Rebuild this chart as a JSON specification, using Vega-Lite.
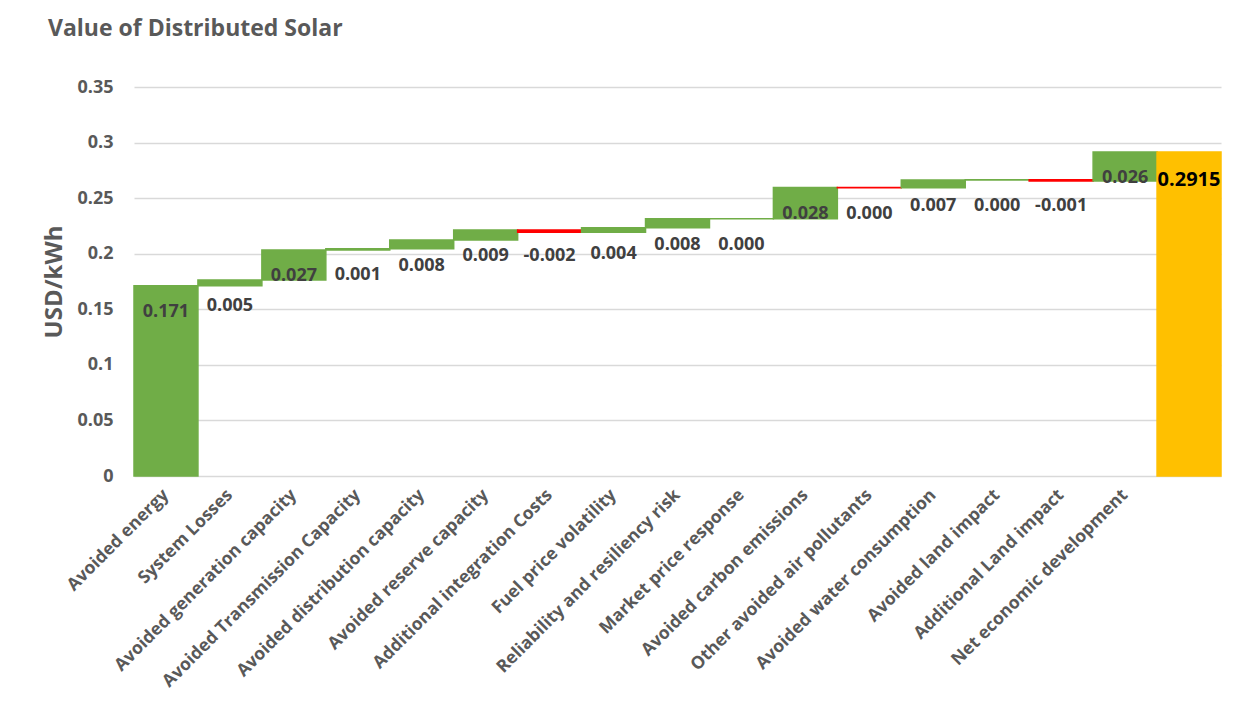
{
  "$schema": "https://vega.github.io/schema/vega-lite/v6.json",
  "autosize": {"type": "none"},
  "width": 1087,
  "height": 389,
  "padding": {"left": 134, "top": 87, "right": 26, "bottom": 243},
  "background": "white",
  "title": {
    "text": "Value of Distributed Solar",
    "anchor": "start",
    "frame": "group",
    "dx": -86,
    "offset": 37,
    "fontSize": 23,
    "fontWeight": "bold",
    "color": "#595959",
    "font": "Open Sans"
  },
  "data": {
    "values": [
      {"item": "Avoided energy", "kind": "increase", "start": 0, "end": 0.1712, "value": 0.1712},
      {"item": "System Losses", "kind": "increase", "start": 0.1712, "end": 0.1764, "value": 0.0052},
      {"item": "Avoided generation capacity", "kind": "increase", "start": 0.1764, "end": 0.2034, "value": 0.027},
      {"item": "Avoided Transmission Capacity", "kind": "increase", "start": 0.2034, "end": 0.2044, "value": 0.001},
      {"item": "Avoided distribution capacity", "kind": "increase", "start": 0.2044, "end": 0.2124, "value": 0.008},
      {"item": "Avoided reserve capacity", "kind": "increase", "start": 0.2124, "end": 0.2214, "value": 0.009},
      {"item": "Additional integration Costs", "kind": "decrease", "start": 0.2214, "end": 0.2194, "value": -0.002},
      {"item": "Fuel price volatility", "kind": "increase", "start": 0.2194, "end": 0.2234, "value": 0.004},
      {"item": "Reliability and resiliency risk", "kind": "increase", "start": 0.2234, "end": 0.2314, "value": 0.008},
      {"item": "Market price response", "kind": "increase", "start": 0.2314, "end": 0.2315, "value": 0.0001},
      {"item": "Avoided carbon emissions", "kind": "increase", "start": 0.2315, "end": 0.2595, "value": 0.028},
      {"item": "Other avoided air pollutants", "kind": "decrease", "start": 0.2595, "end": 0.2593, "value": -0.0002},
      {"item": "Avoided water consumption", "kind": "increase", "start": 0.2593, "end": 0.2663, "value": 0.007},
      {"item": "Avoided land impact", "kind": "increase", "start": 0.2663, "end": 0.2665, "value": 0.0002},
      {"item": "Additional Land impact", "kind": "decrease", "start": 0.2665, "end": 0.2655, "value": -0.001},
      {"item": "Net economic development", "kind": "increase", "start": 0.2655, "end": 0.2915, "value": 0.026},
      {"item": "Total", "kind": "total", "start": 0, "end": 0.2915, "value": 0.2915}
    ]
  },
  "encoding": {
    "x": {
      "field": "item",
      "type": "nominal",
      "sort": null,
      "scale": {"paddingInner": 0, "paddingOuter": 0},
      "axis": {
        "title": null,
        "labelAngle": -45,
        "labelAlign": "right",
        "labelBaseline": "middle",
        "labelPadding": 16,
        "labelFontSize": 17.5,
        "labelFontWeight": "bold",
        "labelColor": "#595959",
        "labelExpr": "datum.value == 'Total' ? '' : datum.value",
        "ticks": false,
        "domain": false,
        "labelLimit": 400
      }
    }
  },
  "layer": [
    {
      "mark": {"type": "bar", "strokeWidth": 1.5},
      "encoding": {
        "y": {
          "field": "start",
          "type": "quantitative",
          "scale": {"domain": [0, 0.35]},
          "axis": {
            "title": "USD/kWh",
            "titleFontSize": 24,
            "titleFontWeight": "bold",
            "titleColor": "#595959",
            "titlePadding": 10,
            "values": [0, 0.05, 0.1, 0.15, 0.2, 0.25, 0.3, 0.35],
            "labelExpr": "datum.value == 0 ? '0' : format(datum.value, '.2~f')",
            "labelFontSize": 18,
            "labelFontWeight": "bold",
            "labelColor": "#595959",
            "labelPadding": 21,
            "ticks": false,
            "domain": false,
            "gridColor": "#D9D9D9",
            "gridWidth": 1.5
          }
        },
        "y2": {"field": "end"},
        "color": {
          "field": "kind",
          "type": "nominal",
          "scale": {"domain": ["increase", "decrease", "total"], "range": ["#70AD47", "#FF0000", "#FFC000"]},
          "legend": null
        },
        "stroke": {
          "field": "kind",
          "type": "nominal",
          "scale": {"domain": ["increase", "decrease", "total"], "range": ["#70AD47", "#FF0000", "#FFC000"]},
          "legend": null
        }
      }
    },
    {
      "transform": [{"filter": "datum.kind == 'increase'"}],
      "mark": {"type": "text", "baseline": "middle", "dy": 26, "fontSize": 18, "fontWeight": "bold", "color": "#404040"},
      "encoding": {
        "y": {"field": "end", "type": "quantitative"},
        "text": {"field": "value", "type": "quantitative", "format": ".3f"}
      }
    },
    {
      "transform": [{"filter": "datum.kind == 'decrease'"}],
      "mark": {"type": "text", "baseline": "middle", "dy": 26, "fontSize": 18, "fontWeight": "bold", "color": "#404040"},
      "encoding": {
        "y": {"field": "start", "type": "quantitative"},
        "text": {"field": "value", "type": "quantitative", "format": ".3f"}
      }
    },
    {
      "transform": [{"filter": "datum.kind == 'total'"}],
      "mark": {"type": "text", "baseline": "middle", "dy": 28, "fontSize": 20, "fontWeight": "bold", "color": "#000000"},
      "encoding": {
        "y": {"field": "end", "type": "quantitative"},
        "text": {"field": "value", "type": "quantitative", "format": ".4f"}
      }
    }
  ],
  "config": {
    "font": "Open Sans",
    "view": {"stroke": null},
    "locale": {"number": {"decimal": ".", "thousands": ",", "grouping": [3], "currency": ["$", ""], "minus": "-"}}
  }
}
